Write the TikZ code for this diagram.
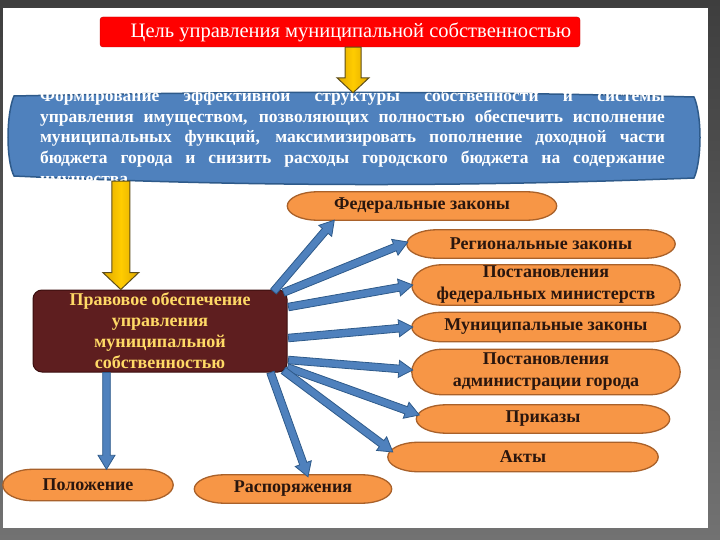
\documentclass[tikz,border=0pt]{standalone}
\usepackage{fontspec}
\setmainfont{Liberation Serif}
\usetikzlibrary{calc}
\pgfdeclarelayer{bgA}
\pgfdeclarelayer{bgB}
\pgfsetlayers{bgA,bgB,main}

\definecolor{ofill}{HTML}{F79646}
\definecolor{obrd}{HTML}{A9612A}
\definecolor{otxt}{HTML}{2A160E}
\definecolor{bfill}{HTML}{4F81BD}
\definecolor{bbrd}{HTML}{2E5A8A}
\definecolor{mfill}{HTML}{5E1E1F}
\definecolor{mbrd}{HTML}{3A0E0E}
\definecolor{ytxt}{HTML}{FFD966}
\definecolor{yfill}{HTML}{FFCC00}
\definecolor{ydark}{HTML}{E0A800}
\definecolor{ybrd}{HTML}{5E4E1A}
\definecolor{gtop}{HTML}{3E3E3E}
\definecolor{gbot}{HTML}{727272}

% capsule outline behind a node: #1 node name, #2 end radius
\newcommand\capsule[2]{%
  \begin{pgfonlayer}{bgB}
  \draw[capsuleline]
    ([xshift=-#2]#1.north east)
      .. controls ([xshift=-0.448*#2]#1.north east) and ($(#1.east)!0.552!(#1.north east)$) .. (#1.east)
      .. controls ($(#1.east)!0.552!(#1.south east)$) and ([xshift=-0.448*#2]#1.south east) .. ([xshift=-#2]#1.south east)
    -- ([xshift=#2]#1.south west)
      .. controls ([xshift=0.448*#2]#1.south west) and ($(#1.west)!0.552!(#1.south west)$) .. (#1.west)
      .. controls ($(#1.west)!0.552!(#1.north west)$) and ([xshift=0.448*#2]#1.north west) .. ([xshift=#2]#1.north west)
    -- cycle;
  \end{pgfonlayer}}

% blue block arrow between two named coordinates
\newcommand\blockarrow[2]{%
  \coordinate (bah) at ($(#2)!14pt!(#1)$);
  \draw[barrow] ($(#1)!3.8pt!90:(#2)$) -- ($(bah)!3.8pt!-90:(#1)$) -- ($(bah)!8.5pt!-90:(#1)$)
    -- (#2) -- ($(bah)!8.5pt!90:(#1)$) -- ($(bah)!3.8pt!90:(#1)$) -- ($(#1)!3.8pt!-90:(#2)$) -- cycle;}

% vertical yellow block arrow: start, end, shaft half, head half, head length
\newcommand\yarrow[5]{%
  \coordinate (yah) at ($(#2)!#5pt!(#1)$);
  \draw[yarrowst] ([xshift=-#3pt]#1) -- ([xshift=-#3pt]yah) -- ([xshift=-#4pt]yah) -- (#2)
    -- ([xshift=#4pt]yah) -- ([xshift=#3pt]yah) -- ([xshift=#3pt]#1) -- cycle;}

\begin{document}
\begin{tikzpicture}[x=1pt,y=-1pt,
  capsuleline/.style={draw=obrd,fill=ofill,line width=1.3pt},
  otext/.style={text=otxt,font=\bfseries\fontsize{18}{22}\selectfont,align=center,inner sep=0pt},
  barrow/.style={draw=bbrd,fill=bfill,line width=0.8pt,line join=miter},
  yarrowst/.style={draw=ybrd,line width=1pt,left color=ydark,right color=ydark,middle color=yfill},
]
\useasboundingbox (0,0) rectangle (720,540);
\begin{pgfonlayer}{bgA}
  \shade[top color=gtop,bottom color=gbot] (0,0) rectangle (720,540);
  \fill[white] (3,8) rectangle (708,528);
\end{pgfonlayer}

% goal
\node[fill=red,draw=red!75!black,rounded corners=3pt,minimum width=480,minimum height=30,inner sep=0,
      text=white,font=\fontsize{20.5}{21}\selectfont] (goal) at (340,32)
  {\hspace*{22pt}Цель управления муниципальной собственностью};

% blue box
\node[minimum width=688,minimum height=88,inner sep=0] (form) at (354,137) {};
\begin{pgfonlayer}{bgB}
  \draw[draw=bbrd,fill=bfill,line width=1.5pt]
    (14,96) .. controls (250,91) and (460,91) .. (694,97)
    .. controls (702,115) and (702,160) .. (694,178)
    .. controls (460,187) and (250,187) .. (14,176)
    .. controls (6,160) and (6,115) .. cycle;
\end{pgfonlayer}
\node[text=white,font=\bfseries\fontsize{17.5}{20.6}\selectfont,text width=625,align=justify,anchor=north,inner sep=0]
  (formtext) at (352.5,89)
  {Формирование эффективной структуры собственности и системы\linebreak
   управления имуществом, позволяющих полностью обеспечить исполнение\linebreak
   муниципальных функций, максимизировать пополнение доходной части\linebreak
   бюджета города и снизить расходы городского бюджета на содержание\linebreak
   имущества};

% legal support box
\node[fill=mfill,draw=mbrd,line width=1pt,rounded corners=9pt,minimum width=254,minimum height=82,inner sep=0,
      text=ytxt,font=\bfseries\fontsize{18}{21}\selectfont,align=center] (legal) at (160,331)
  {Правовое обеспечение\\управления\\муниципальной\\собственностью};

% orange capsules
\node[otext,minimum width=269,minimum height=28] (fed) at (422,206) {Федеральные законы};
\node[otext,minimum width=268,minimum height=28] (reg) at (541,244) {Региональные законы};
\node[otext,minimum width=268,minimum height=40] (pfm) at (546,285) {Постановления\\федеральных министерств};
\node[otext,minimum width=268,minimum height=29] (mun) at (546,327) {Муниципальные законы};
\node[otext,minimum width=268,minimum height=45] (padm) at (546,372) {Постановления\\администрации города};
\node[otext,minimum width=253,minimum height=28] (prik) at (543,419) {Приказы};
\node[otext,minimum width=270,minimum height=29] (akty) at (523,457) {Акты};
\node[otext,minimum width=170,minimum height=31] (polo) at (88,485) {Положение};
\node[otext,minimum width=197,minimum height=28] (rasp) at (293,489) {Распоряжения};
\foreach \n in {fed,reg,pfm,mun,padm,prik,akty,polo,rasp} {\capsule{\n}{30pt}}

% yellow arrows
\coordinate (ya1s) at ($(goal.south)+(13,0)$);
\coordinate (ya1e) at (ya1s |- form.north);
\yarrow{ya1s}{ya1e}{8}{16}{15}
\coordinate (ya2s) at ($(form.south west)+(111,0)$);
\coordinate (ya2e) at (ya2s |- legal.north);
\yarrow{ya2s}{ya2e}{9}{18}{17}

% blue arrows
\coordinate (s1) at ($(legal.north east)+(-14,2)$);  \coordinate (t1) at ($(fed.south west)+(47,0)$);
\coordinate (s2) at ($(legal.north east)+(-4,3)$);   \coordinate (t2) at ($(reg.west)+(1,-2)$);
\coordinate (s3) at ($(legal.east)+(1,-24)$);        \coordinate (t3) at ($(pfm.west)+(1,0)$);
\coordinate (s4) at ($(legal.east)+(1,7)$);          \coordinate (t4) at ($(mun.west)+(1,0)$);
\coordinate (s5) at ($(legal.east)+(1,29)$);         \coordinate (t5) at ($(padm.west)+(1,-2)$);
\coordinate (s6) at ($(legal.south east)+(0,-5)$);   \coordinate (t6) at ($(prik.west)+(3,-4)$);
\coordinate (s7) at ($(legal.south east)+(-4,-2)$);  \coordinate (t7) at ($(akty.west)+(5,-5)$);
\coordinate (s8) at ($(legal.south east)+(-17,0)$);  \coordinate (t8) at ($(rasp.north)+(15,2)$);
\coordinate (s9) at ($(legal.south west)+(74,0)$);   \coordinate (t9) at (s9 |- polo.north);
\foreach \i in {1,...,9} {\blockarrow{s\i}{t\i}}
\end{tikzpicture}
\end{document}
